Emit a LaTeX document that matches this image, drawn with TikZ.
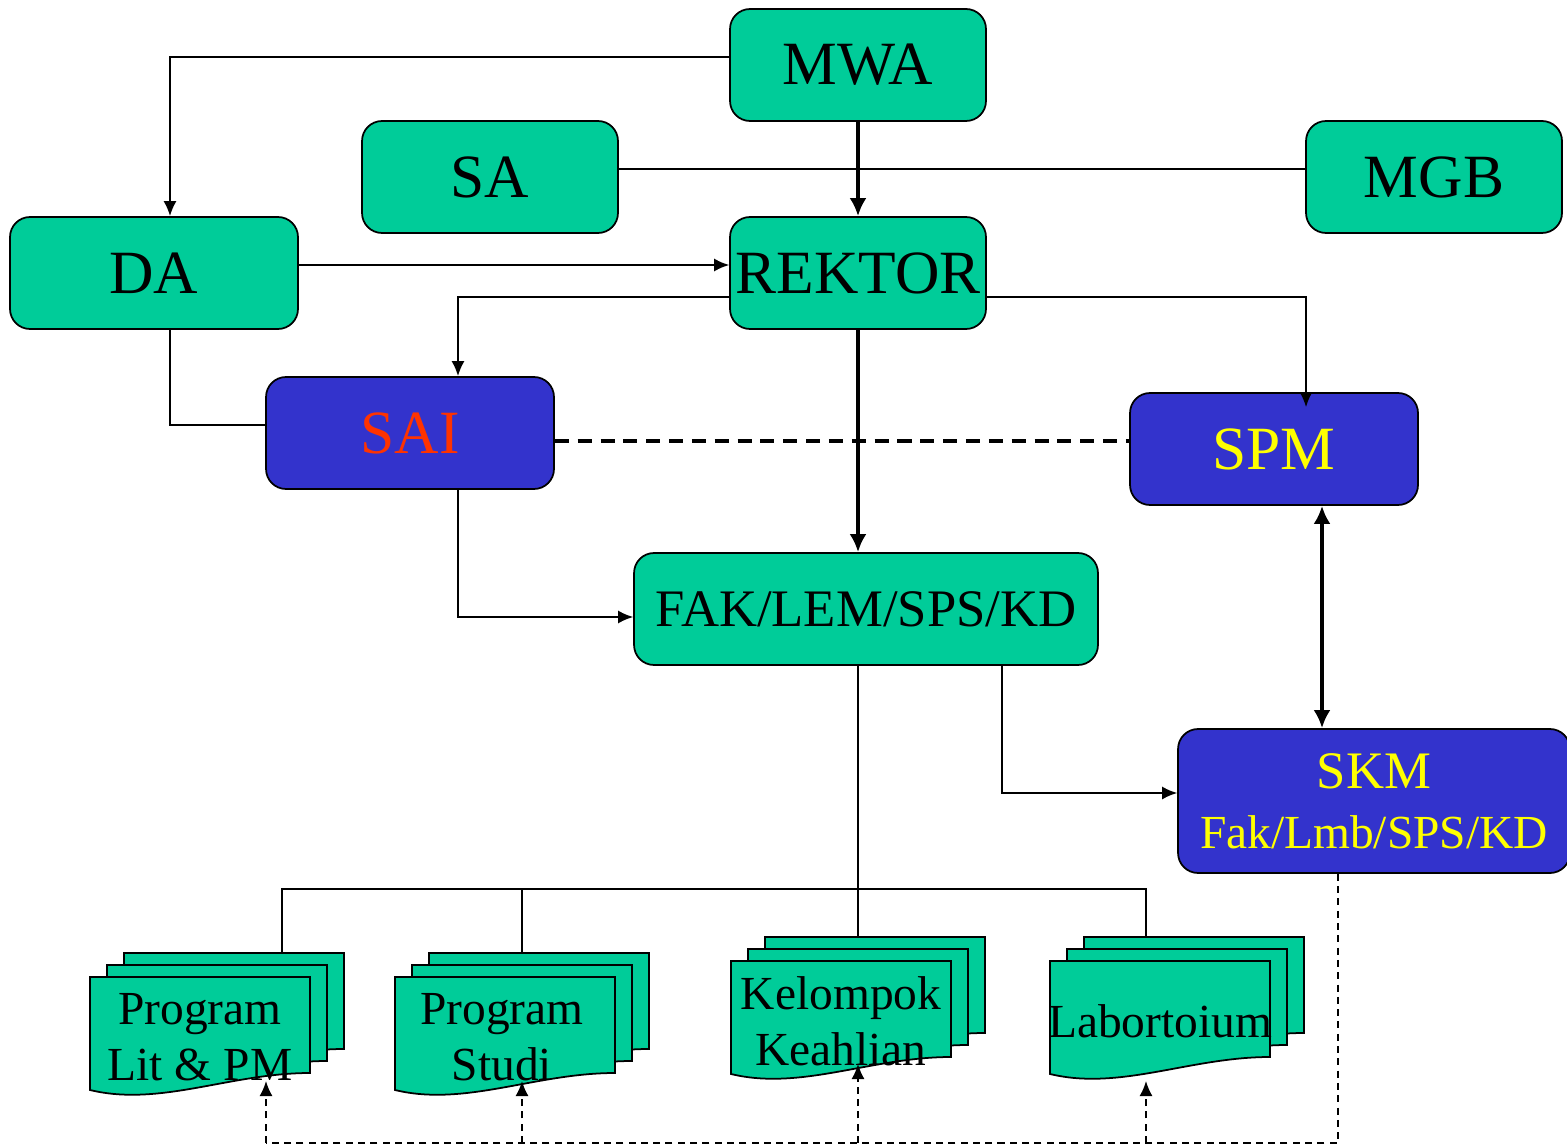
\documentclass[tikz,border=0pt]{standalone}
\usepackage{fontspec}
\setmainfont{Liberation Serif}
\usetikzlibrary{arrows.meta}
\definecolor{hijau}{RGB}{0,204,153}
\definecolor{biru}{RGB}{51,51,204}
\definecolor{kuning}{RGB}{255,255,0}
\definecolor{merah}{RGB}{255,51,0}
\tikzstyle{kotak}=[draw, rounded corners=0.4cm, fill=hijau, line width=1pt, minimum width=5.12cm, minimum height=2.24cm, inner sep=0pt, font=\fontsize{35}{40}\selectfont]
\tikzstyle{kotakbiru}=[kotak, fill=biru, text=kuning, minimum width=5.76cm]
\tikzstyle{garis}=[line width=1pt]
\tikzstyle{tebal}=[line width=2.4pt, >={Latex[length=0.36cm,width=0.34cm]}]
\tikzstyle{putus}=[line width=1pt, dash pattern=on 4pt off 3pt]
\tikzstyle{teks}=[align=center, inner sep=0pt, font=\fontsize{27}{32}\selectfont]

% one sheet, (x,y) = top left corner
\newcommand{\lembar}[2]{%
  \draw[garis, fill=hijau] ({#1},{#2}) -- ({#1+220},{#2}) -- ({#1+220},{#2+96})
    .. controls ({#1+140},{#2+96}) and ({#1+70},{#2+130}) .. ({#1},{#2+113}) -- cycle;}
\newcommand{\tumpukan}[2]{%
  \lembar{#1+34}{#2-24}\lembar{#1+17}{#2-12}\lembar{#1}{#2}}

\begin{document}
\begin{tikzpicture}[x=0.02cm, y=-0.02cm, >={Latex[length=0.3cm,width=0.26cm]}]
  \useasboundingbox (0,0) rectangle (1567,1148);

  \node[kotak] (mwa) at (858,65) {MWA};
  \node[kotak] (sa) at (490,177) {SA};
  \node[kotak] (mgb) at (1434,177) {MGB};
  \node[kotak, minimum width=5.76cm] (da) at (154,273) {DA};
  \node[kotak] (rektor) at (858,273) {REKTOR};
  \node[kotakbiru, text=merah] (sai) at (410,433) {SAI};
  \node[kotakbiru] (spm) at (1274,449) {SPM};
  \node[kotak, minimum width=9.28cm, font=\fontsize{30}{36}\selectfont] (fak) at (866,609) {FAK/LEM/SPS/KD};
  \node[kotakbiru, minimum width=7.84cm, minimum height=2.88cm, align=center, font=\fontsize{30}{34}\selectfont] (skm) at (1374,801)
    {SKM\\{\fontsize{27}{34}\selectfont Fak/Lmb/SPS/KD}};

  \tumpukan{90}{977}
  \tumpukan{395}{977}
  \tumpukan{731}{961}
  \tumpukan{1050}{961}
  \node[teks] (plit) at (200,1037) {Program\\Lit \& PM};
  \node[teks] (pstudi) at (502,1037) {Program\\Studi};
  \node[teks] (kk) at (841,1021) {Kelompok\\Keahlian};
  \node[teks] (lab) at (1160,1021) {Labortoium};

  \coordinate (atas1) at (282,953);
  \coordinate (atas2) at (522,953);
  \coordinate (atas3) at (858,937);
  \coordinate (atas4) at (1146,937);
  \coordinate (bawah1) at (266,1081);
  \coordinate (bawah2) at (522,1081);
  \coordinate (bawah3) at (858,1064);
  \coordinate (bawah4) at (1146,1081);
  \coordinate (hub) at (858,889);
  \coordinate (lantai) at (266,1143);

  % atas
  \draw[garis,->] ([yshift=0.16cm]mwa.west) -| ([xshift=0.32cm]da.north);
  \draw[garis] ([yshift=0.16cm]sa.east) -- ([yshift=0.16cm]mgb.west);
  \draw[tebal,->] (mwa) -- (rektor);
  \draw[garis,->] ([yshift=0.16cm]da.east) -- ([yshift=0.16cm]rektor.west);
  \draw[garis,->] ([yshift=-0.48cm]rektor.west) -| ([xshift=0.96cm]sai.north);
  \draw[garis,->,shorten >=-0.3cm] ([yshift=-0.48cm]rektor.east) -| ([xshift=0.64cm]spm.north);
  \draw[garis] ([xshift=0.32cm]da.south) |- ([yshift=0.16cm]sai.west);
  \draw[line width=2pt, dash pattern=on 8pt off 5pt] ([yshift=-0.16cm]sai.east) -- ([yshift=-0.16cm]sai.east -| spm.west);
  \draw[tebal,->] (rektor) -- (rektor |- fak.north);

  % tengah
  \draw[garis,->] ([xshift=0.96cm]sai.south) |- ([yshift=-0.16cm]fak.west);
  \draw[tebal,<->] ([xshift=0.96cm]spm.south) -- ([xshift=0.96cm]spm.south |- skm.north);
  \draw[garis,->] ([xshift=2.72cm]fak.south) |- ([yshift=0.16cm]skm.west);

  % bawah
  \draw[garis] (rektor.south |- fak.south) -- (hub);
  \draw[garis] (atas1) |- (hub -| atas4) -- (atas4);
  \draw[garis] (hub -| atas2) -- (atas2);
  \draw[garis] (hub) -- (atas3);
  \draw[putus] ([xshift=-0.72cm]skm.south) |- (lantai);
  \foreach \i in {1,...,4}
    \draw[putus,->] (lantai -| bawah\i) -- (bawah\i);
\end{tikzpicture}
\end{document}
